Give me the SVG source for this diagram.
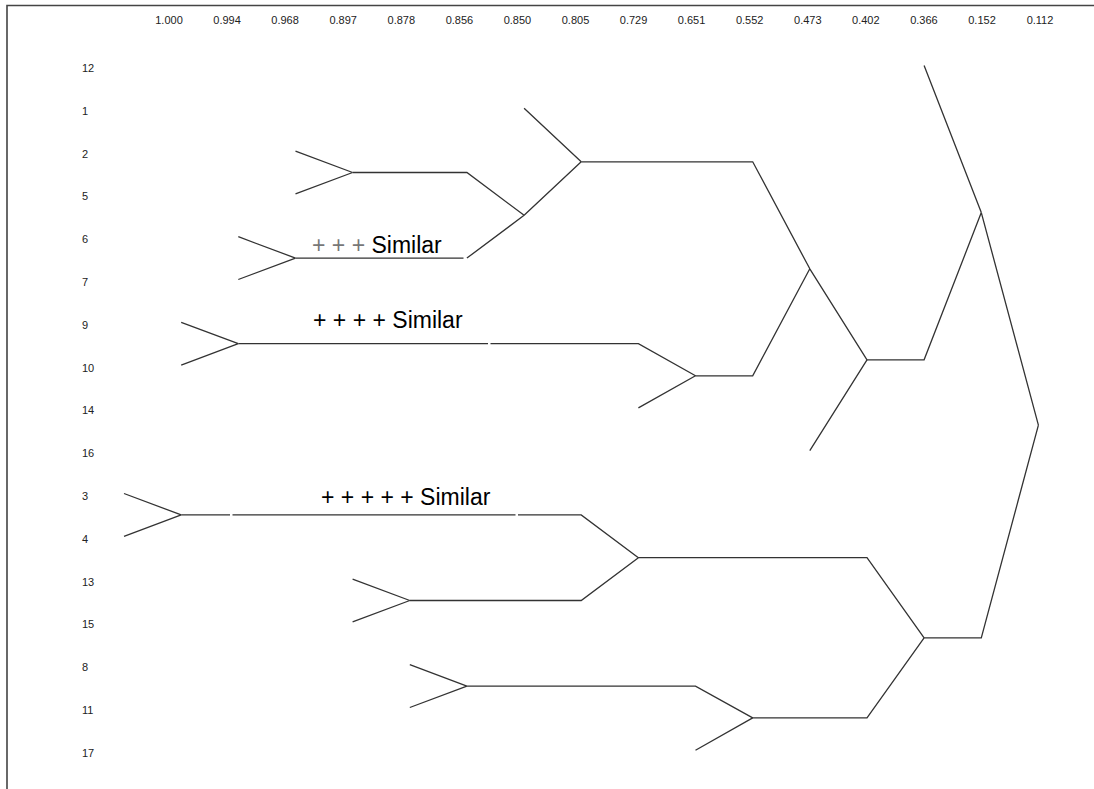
<svg xmlns="http://www.w3.org/2000/svg" width="1094" height="789" viewBox="0 0 1094 789">
<style>
.ax{font-family:"Liberation Sans",Arial,sans-serif;font-size:11px;fill:#222;text-anchor:middle}
.lb{font-family:"Liberation Sans",Arial,sans-serif;font-size:11px;fill:#222}
.sim{font-family:"Liberation Sans",Arial,sans-serif;font-size:23px;fill:#000}
.ln{fill:none;stroke:#333;stroke-width:1.3;stroke-linejoin:miter}
</style>
<rect x="0" y="0" width="1094" height="789" fill="#fff"/>
<g id="frame">
<path d="M7,789 V5.5 H1094" fill="none" stroke="#444" stroke-width="1.6"/>
</g>
<g id="axis">
<text class="ax" x="169" y="24">1.000</text>
<text class="ax" x="227.1" y="24">0.994</text>
<text class="ax" x="285.1" y="24">0.968</text>
<text class="ax" x="343.2" y="24">0.897</text>
<text class="ax" x="401.3" y="24">0.878</text>
<text class="ax" x="459.4" y="24">0.856</text>
<text class="ax" x="517.4" y="24">0.850</text>
<text class="ax" x="575.5" y="24">0.805</text>
<text class="ax" x="633.6" y="24">0.729</text>
<text class="ax" x="691.6" y="24">0.651</text>
<text class="ax" x="749.7" y="24">0.552</text>
<text class="ax" x="807.8" y="24">0.473</text>
<text class="ax" x="865.8" y="24">0.402</text>
<text class="ax" x="923.9" y="24">0.366</text>
<text class="ax" x="982" y="24">0.152</text>
<text class="ax" x="1040" y="24">0.112</text>
</g>
<g id="leaf-12"><text class="lb" x="82" y="72">12</text></g>
<g id="leaf-1"><text class="lb" x="82" y="114.8">1</text></g>
<g id="leaf-2"><text class="lb" x="82" y="157.6">2</text></g>
<g id="leaf-5"><text class="lb" x="82" y="200.4">5</text></g>
<g id="leaf-6"><text class="lb" x="82" y="243.2">6</text></g>
<g id="leaf-7"><text class="lb" x="82" y="286">7</text></g>
<g id="leaf-9"><text class="lb" x="82" y="328.8">9</text></g>
<g id="leaf-10"><text class="lb" x="82" y="371.6">10</text></g>
<g id="leaf-14"><text class="lb" x="82" y="414.4">14</text></g>
<g id="leaf-16"><text class="lb" x="82" y="457.2">16</text></g>
<g id="leaf-3"><text class="lb" x="82" y="500">3</text></g>
<g id="leaf-4"><text class="lb" x="82" y="542.8">4</text></g>
<g id="leaf-13"><text class="lb" x="82" y="585.6">13</text></g>
<g id="leaf-15"><text class="lb" x="82" y="628.4">15</text></g>
<g id="leaf-8"><text class="lb" x="82" y="671.2">8</text></g>
<g id="leaf-11"><text class="lb" x="82" y="714">11</text></g>
<g id="leaf-17"><text class="lb" x="82" y="756.8">17</text></g>
<g id="connectors">
<path class="ln" d="M124,493.5 L181.2,514.9 M124,536.3 L181.2,514.9
M181.2,322.3 L238.3,343.7 M181.2,365.1 L238.3,343.7
M238.3,236.7 L295.5,258.1 M238.3,279.5 L295.5,258.1
M295.5,151.1 L352.6,172.5 M295.5,193.9 L352.6,172.5
M352.6,579.1 L409.8,600.5 M352.6,621.9 L409.8,600.5
M409.8,664.7 L466.9,686.1 M409.8,707.5 L466.9,686.1
M524.1,108.3 L581.2,161.8
M638.4,407.9 L695.5,375.8
M809.8,450.7 L867,359.8
M924.1,65.5 L981.3,212.6
M695.5,750.3 L752.7,717.9"/>
<path class="ln" d="M181.2,514.9 H230 M232.5,514.9 H515.5 M518,514.9 H581.2 L638.4,557.7
M409.8,600.5 H581.2 L638.4,557.7
M238.3,343.7 H488 M490.5,343.7 H638.4 L695.5,375.8
M295.5,258.1 H463.5 M466.9,258.1 L524.1,215.3
M352.6,172.5 H466.9 L524.1,215.3
M524.1,215.3 L581.2,161.8
M581.2,161.8 H752.7 L809.8,268.8
M695.5,375.8 H752.7 L809.8,268.8
M809.8,268.8 L867,359.8
M867,359.8 H924.1 L981.3,212.6
M981.3,212.6 L1038.4,425.2
M638.4,557.7 H867 L924.1,637.8
M466.9,686.1 H695.5 L752.7,717.9
M752.7,717.9 H867 L924.1,637.8
M924.1,637.8 H981.3 L1038.4,425.2"/>
</g>
<g id="notes">
<text class="sim" x="312" y="253"><tspan fill="#777">+ + +</tspan> Similar</text>
<text class="sim" x="313" y="328">+ + + + Similar</text>
<text class="sim" x="321" y="505">+ + + + + Similar</text>
</g>
</svg>
